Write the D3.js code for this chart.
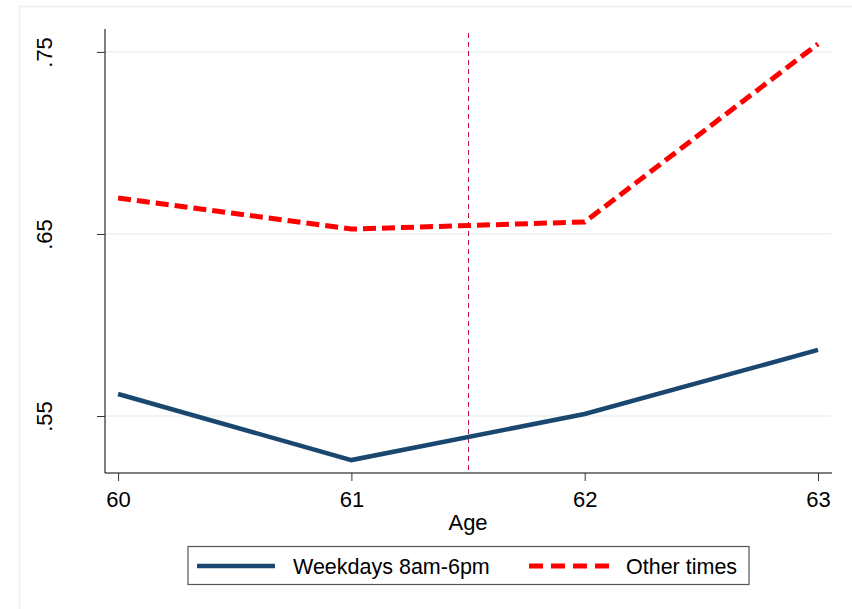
<!DOCTYPE html>
<html>
<head>
<meta charset="utf-8">
<script src="https://cdn.jsdelivr.net/npm/d3@7"></script>
<style>
body { margin: 0; background: #fff; }
text { font-family: "Liberation Sans", Arial, sans-serif; fill: #000; }
</style>
</head>
<body>
<script>
var width = 852
var height = 609

// data
var ages = [60, 61, 62, 63]
var weekdays = [0.5621, 0.5258, 0.5511, 0.5863]
var otherTimes = [0.6698, 0.6527, 0.6566, 0.7544]
var yTicks = [0.55, 0.65, 0.75]
var yTickLabels = ['.55', '.65', '.75']
var cutoff = 61.5

var svg = d3.select('body').append('svg').attr('width', width).attr('height', height)

// outer graph region frame (cropped at right/bottom)
svg.append('rect').attr('x', 19.5).attr('y', 6.5).attr('width', 900).attr('height', 700)
    .attr('fill', 'none').attr('stroke', '#eaf0f2').attr('stroke-width', 1.5)

var x = d3.scaleLinear().domain([59.944, 63.06]).range([105, 832])
var y = d3.scaleLinear().domain([0.5187, 0.7626]).range([473, 29])

// grid lines
svg.append('g').selectAll('line').data(yTicks).enter().append('line')
    .attr('x1', 105).attr('x2', 831)
    .attr('y1', d => y(d)).attr('y2', d => y(d))
    .attr('stroke', '#eaf0f2').attr('stroke-width', 1.5)

// y axis
var yAxis = d3.axisLeft(y).tickValues(yTicks).tickSize(8).tickFormat((d, i) => yTickLabels[i])
var gy = svg.append('g').attr('transform', 'translate(105,0)').call(yAxis).attr('font-size', 22)
gy.select('.domain').attr('stroke', '#000').attr('d', `M0,${y.range()[1]}V${y.range()[0]}`)
gy.selectAll('.tick line').attr('stroke', '#333')
gy.selectAll('.tick text')
    .attr('x', null).attr('dy', '0.35em')
    .attr('transform', 'translate(-61,0) rotate(-90)')
    .attr('text-anchor', 'middle')

// x axis
var xAxis = d3.axisBottom(x).tickValues(ages).tickSize(8).tickFormat(d3.format('d'))
var gx = svg.append('g').attr('transform', 'translate(0,473)').call(xAxis).attr('font-size', 22)
gx.select('.domain').attr('stroke', '#000').attr('d', `M${x.range()[0]},0H${x.range()[1]}`)
gx.selectAll('.tick line').attr('stroke', '#333')
gx.selectAll('.tick text').attr('y', 18)

svg.append('text').attr('x', x(cutoff)).attr('y', 530).attr('text-anchor', 'middle')
    .attr('font-size', 22).text('Age')

// cutoff line
var xc = Math.round(x(cutoff)) + 0.5
svg.append('line').attr('x1', xc).attr('x2', xc).attr('y1', 33).attr('y2', 473)
    .attr('stroke', '#c8103e').attr('stroke-width', 1).attr('stroke-dasharray', '5,4')

var line = d3.line().x((d, i) => x(ages[i])).y(d => y(d))

svg.append('path').datum(weekdays).attr('d', line)
    .attr('fill', 'none').attr('stroke', '#1a476f').attr('stroke-width', 4.5)

svg.append('path').datum(otherTimes).attr('d', line)
    .attr('fill', 'none').attr('stroke', '#ff0000').attr('stroke-width', 5)
    .attr('stroke-dasharray', '13,6')

// legend
var lg = svg.append('g').attr('font-size', 21.5)
lg.append('rect').attr('x', 188).attr('y', 546.5).attr('width', 561).attr('height', 38)
    .attr('fill', '#fff').attr('stroke', '#555').attr('stroke-width', 1.2)
lg.append('line').attr('x1', 197).attr('x2', 275).attr('y1', 566).attr('y2', 566)
    .attr('stroke', '#1a476f').attr('stroke-width', 4.5)
lg.append('text').attr('x', 293).attr('y', 574).text('Weekdays 8am-6pm')
lg.append('line').attr('x1', 529).attr('x2', 609).attr('y1', 566).attr('y2', 566)
    .attr('stroke', '#ff0000').attr('stroke-width', 5).attr('stroke-dasharray', '14,8')
lg.append('text').attr('x', 626).attr('y', 574).text('Other times')
</script>
</body>
</html>
